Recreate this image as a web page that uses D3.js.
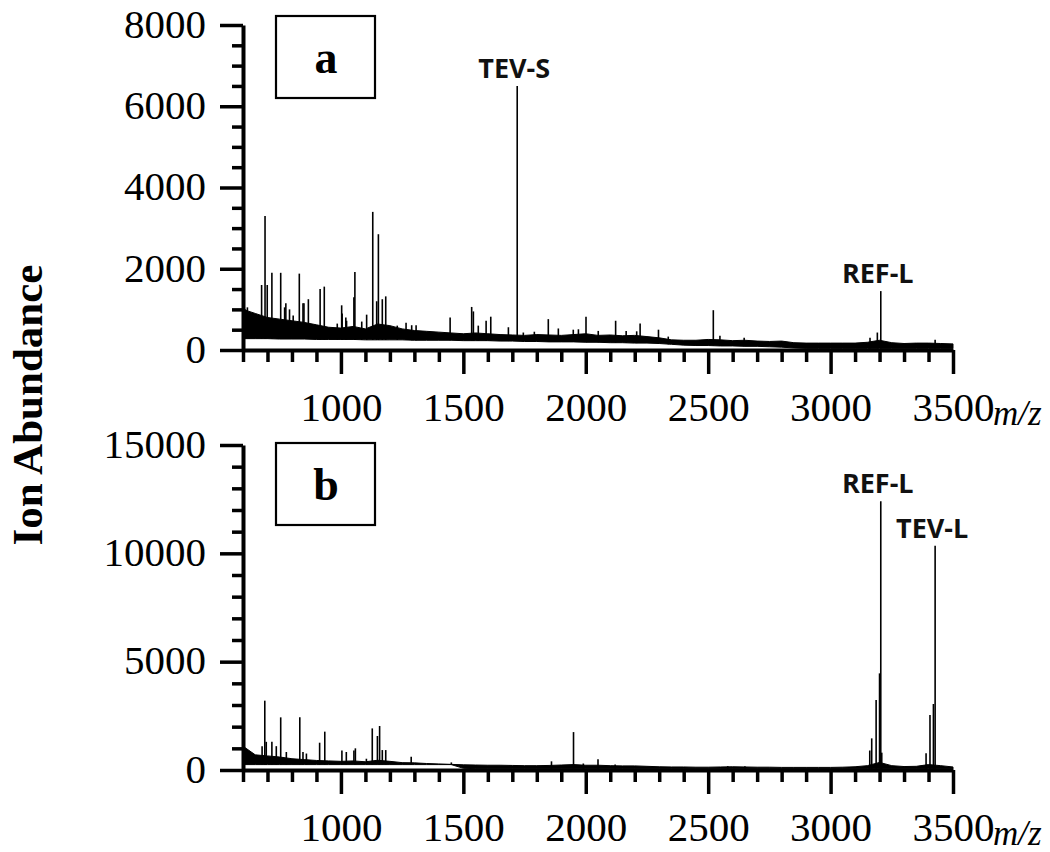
<!DOCTYPE html>
<meta charset="utf-8">
<style>
body { margin: 0; background: #fff; }
svg { display: block; background: #fff; }
.axis path, .axis line { stroke: #000; }
.axis text { font-family: "Liberation Serif", "Times New Roman", serif; font-size: 41px; fill: #000; }
.tag { font-family: "Open Sans", sans-serif; font-weight: bold; font-size: 27px; fill: #111; }
</style>
<svg width="1050" height="852"></svg>
<script src="https://cdn.jsdelivr.net/npm/d3@7"></script>
<script>

// m/z grid of the baseline noise band (every 50)
var bandMz = [600,650,700,750,800,850,900,950,1000,1050,1100,1150,1200,1250,1300,1350,1400,1450,1500,1550,
              1600,1650,1700,1750,1800,1850,1900,1950,2000,2050,2100,2150,2200,2250,2300,2350,2400,2450,2500,2550,
              2600,2650,2700,2750,2800,2850,2900,2950,3000,3050,3100,3150,3200,3250,3300,3350,3400,3450,3500];

// panel a: noise band top / bottom
var bandHighA = [1000,900,800,760,720,680,620,560,540,580,520,640,600,520,480,460,440,420,400,420,
                 400,380,370,360,380,370,360,380,400,360,370,350,360,330,300,250,240,240,260,250,
                 230,240,220,210,220,180,170,170,170,170,170,190,240,180,160,170,170,160,150];
var bandLowA  = [280,280,280,270,270,270,260,260,260,260,250,250,250,250,240,240,240,240,230,230,
                 230,220,220,210,210,200,200,200,190,190,180,180,170,170,160,140,120,110,110,100,
                 100,90,90,80,70,50,40,40,40,40,40,40,40,40,40,40,40,40,40];

// panel a: peaks [m/z, abundance]
var peaksA = [[610,1000],[618,1050],[625,900],[676,1600],[690,3300],[699,1600],[718,1900],[740,700],
              [754,1900],[770,1050],[775,1150],[790,1000],[805,850],[830,1880],[845,1150],[849,1150],
              [867,1250],[915,1500],[932,1560],[985,650],[1003,1100],[1005,900],[1020,800],[1023,720],
              [1053,1300],[1057,1920],[1085,700],[1105,870],[1130,3400],[1146,1200],[1153,2850],[1169,1250],
              [1183,1320],[1230,600],[1266,670],[1289,610],[1307,610],[1446,800],[1534,1060],[1541,950],
              [1561,600],[1593,720],[1612,820],[1684,560],[1720,6500],[1745,430],[1790,450],[1847,760],
              [1888,530],[1949,500],[1970,510],[2001,820],[2051,470],[2122,720],[2165,470],[2208,460],
              [2222,650],[2297,500],[2337,330],[2521,980],[2548,350],[2647,300],[2814,200],[3161,300],
              [3191,430],[3205,1450],[3427,250]];

// panel b: noise band top / bottom
var bandHighB = [1100,700,650,600,520,480,440,420,400,420,380,450,400,340,330,300,280,260,240,230,
                 220,220,210,200,200,210,230,250,220,220,200,190,190,170,150,140,140,130,130,140,
                 150,140,130,130,120,120,120,120,120,130,150,200,350,200,160,170,250,200,140];
var bandLowB  = [250,250,250,250,250,250,250,250,250,250,250,250,250,250,250,250,250,250,80,60,
                 60,60,60,60,60,60,60,60,60,60,60,60,60,60,60,60,60,60,60,60,
                 60,60,60,60,60,60,60,60,60,60,60,60,60,60,60,60,60,60,60];

// panel b: peaks [m/z, abundance]
var peaksB = [[678,1100],[689,3200],[695,1300],[718,1300],[736,1100],[754,2430],[777,830],[832,2430],
              [845,830],[859,760],[913,1260],[934,1770],[1004,900],[1022,830],[1053,900],[1059,1000],
              [1104,520],[1128,1920],[1149,1570],[1158,2030],[1169,920],[1183,920],[1287,615],[1451,350],
              [1860,400],[1950,1750],[1990,300],[2050,500],[2120,250],[2580,180],[2650,170],[3160,900],
              [3168,1460],[3186,3230],[3200,4460],[3205,12400],[3209,800],[3390,770],[3406,2540],
              [3420,3045],[3427,10350]];

// peak labels [text, m/z, abundance]
var tagsA = [["TEV-S",1720,6500],["REF-L",3205,1450]];
var tagsB = [["REF-L",3205,12400],["TEV-L",3427,10350]];

var xMajor = [1000,1500,2000,2500,3000,3500];
var xMinor = [600,700,800,900,1100,1200,1300,1400,1600,1700,1800,1900,2100,2200,2300,2400,
              2600,2700,2800,2900,3100,3200,3300,3400];

var svg = d3.select("svg");

var x = d3.scaleLinear().domain([600, 3500]).range([243, 953]);

function panel(opt) {
    var y = d3.scaleLinear().domain([0, opt.max]).range([opt.y0, opt.y1]);
    var g = svg.append("g");

    var band = bandMz.map(function(m, i) {
        return {mz: m, hi: opt.high[i], lo: opt.low[i]};
    });
    var area = d3.area()
        .x(function(d) { return x(d.mz); })
        .y0(function(d) { return y(d.lo); })
        .y1(function(d) { return y(d.hi); });
    g.append("path").datum(band)
        .attr("d", area)
        .attr("fill", "#000")
        .attr("stroke", "#000")
        .attr("stroke-width", 1);

    var bis = d3.bisector(function(d) { return d.mz; }).center;
    g.append("g").selectAll("line")
        .data(opt.peaks)
        .enter().append("line")
        .attr("x1", function(d) { return x(d[0]); })
        .attr("x2", function(d) { return x(d[0]); })
        .attr("y1", function(d) { return y(band[bis(band, d[0])].lo); })
        .attr("y2", function(d) { return y(d[1]); })
        .attr("stroke", "#000")
        .attr("stroke-width", 1.6);

    // y axis
    var ya = g.append("g").attr("class", "axis")
        .attr("transform", "translate(243,0)")
        .call(d3.axisLeft(y).tickValues(opt.yMajor).tickSize(23).tickSizeOuter(0)
            .tickPadding(14).tickFormat(d3.format("d")));
    ya.select(".domain").attr("stroke-width", 4);
    ya.selectAll(".tick line").attr("stroke-width", 3.5);
    ya.selectAll(".tick text").attr("dy", "0.3em");

    var ym = g.append("g").attr("class", "axis")
        .attr("transform", "translate(243,0)")
        .call(d3.axisLeft(y).tickValues(opt.yMinor).tickSize(11).tickFormat(""));
    ym.select(".domain").remove();
    ym.selectAll(".tick line").attr("stroke-width", 3.5);

    // x axis
    var xa = g.append("g").attr("class", "axis")
        .attr("transform", "translate(0," + opt.y0 + ")")
        .call(d3.axisBottom(x).tickValues(xMajor).tickSize(24).tickSizeOuter(0)
            .tickPadding(18).tickFormat(d3.format("d")));
    xa.select(".domain").attr("stroke-width", 4);
    xa.selectAll(".tick line").attr("stroke-width", 3.5);

    var xm = g.append("g").attr("class", "axis")
        .attr("transform", "translate(0," + opt.y0 + ")")
        .call(d3.axisBottom(x).tickValues(xMinor).tickSize(12).tickFormat(""));
    xm.select(".domain").remove();
    xm.selectAll(".tick line").attr("stroke-width", 3.5);

    g.append("text")
        .attr("x", 993).attr("y", opt.y0 + 75)
        .attr("font-family", "Liberation Serif, serif")
        .attr("font-style", "italic")
        .attr("font-size", 35)
        .text("m/z");

    // peak tags
    g.selectAll(".tag")
        .data(opt.tags)
        .enter().append("text")
        .attr("class", "tag")
        .attr("text-anchor", "middle")
        .attr("x", function(d) { return x(d[1]) - 3; })
        .attr("y", function(d) { return y(d[2]) - 8; })
        .text(function(d) { return d[0]; });

    // panel letter box
    g.append("rect")
        .attr("x", 276).attr("y", opt.boxY)
        .attr("width", 99).attr("height", 82)
        .attr("fill", "none").attr("stroke", "#000").attr("stroke-width", 2.2);
    g.append("text")
        .attr("x", 326).attr("y", opt.boxY + 57)
        .attr("text-anchor", "middle")
        .attr("font-family", "Liberation Serif, serif")
        .attr("font-weight", "bold")
        .attr("font-size", 46)
        .text(opt.letter);
}

panel({max: 8000, y0: 350, y1: 25, yMajor: [0,2000,4000,6000,8000],
       yMinor: [500,1000,1500,2500,3000,3500,4500,5000,5500,6500,7000,7500],
       high: bandHighA, low: bandLowA, peaks: peaksA, tags: tagsA, letter: "a", boxY: 16});

panel({max: 15000, y0: 770, y1: 445, yMajor: [0,5000,10000,15000],
       yMinor: [1000,2000,3000,4000,6000,7000,8000,9000,11000,12000,13000,14000],
       high: bandHighB, low: bandLowB, peaks: peaksB, tags: tagsB, letter: "b", boxY: 443});

svg.append("text")
    .attr("transform", "translate(42,405) rotate(-90)")
    .attr("text-anchor", "middle")
    .attr("font-family", "Liberation Serif, serif")
    .attr("font-weight", "bold")
    .attr("font-size", 43)
    .text("Ion Abundance");

</script>
